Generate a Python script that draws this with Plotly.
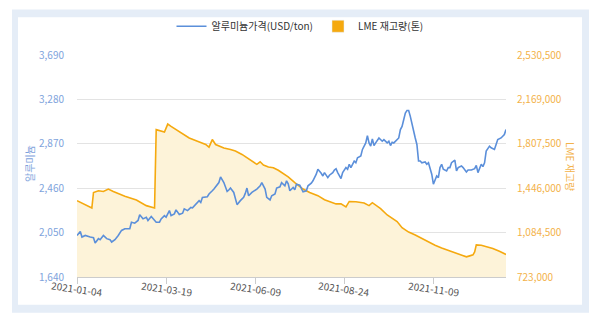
import plotly.graph_objects as go

# ---------------- data ----------------
x_tick_idx = [0, 54, 108, 162, 216]
x_tick_labels = ["2021-01-04", "2021-03-19", "2021-06-09", "2021-08-24", "2021-11-09"]

price_ticks = [1640, 2050, 2460, 2870, 3280, 3690]
stock_ticks = [723000, 1084500, 1446000, 1807500, 2169000, 2530500]

# (trading-day index, aluminium price USD/ton)
price_points = [
    (0, 2024), (2, 2061), (3, 2009), (5, 2024), (8, 2009), (10, 2003), (11, 1954), (13, 1994),
    (14, 1985), (16, 2024), (18, 1994), (20, 1985), (21, 1963), (23, 1985), (25, 2024), (27, 2070),
    (29, 2086), (32, 2086), (33, 2146), (35, 2137), (37, 2162), (38, 2214), (40, 2177), (42, 2192),
    (43, 2162), (45, 2198), (48, 2146), (50, 2146), (51, 2177), (53, 2207), (54, 2192), (56, 2253),
    (57, 2207), (59, 2223), (60, 2260), (62, 2217), (64, 2229), (65, 2269), (67, 2253), (69, 2283),
    (70, 2278), (72, 2314), (74, 2345), (75, 2329), (76, 2375), (79, 2381), (80, 2406), (82, 2436),
    (83, 2452), (86, 2512), (87, 2564), (89, 2512), (91, 2430), (92, 2443), (93, 2461), (95, 2421),
    (96, 2375), (97, 2308), (99, 2345), (101, 2375), (102, 2412), (103, 2461), (104, 2390), (106, 2421),
    (109, 2452), (111, 2482), (112, 2512), (114, 2452), (115, 2375), (117, 2351), (118, 2390), (120, 2406),
    (121, 2461), (123, 2473), (124, 2512), (126, 2482), (127, 2528), (128, 2500), (129, 2436), (131, 2466),
    (132, 2445), (133, 2497), (135, 2488), (136, 2452), (137, 2427), (139, 2436), (140, 2482), (142, 2507),
    (143, 2528), (145, 2589), (146, 2635), (148, 2598), (149, 2573), (150, 2604), (152, 2558), (153, 2580),
    (155, 2604), (156, 2628), (157, 2640), (158, 2604), (160, 2549), (161, 2604), (163, 2650), (164, 2635),
    (165, 2681), (166, 2650), (168, 2711), (169, 2695), (170, 2741), (172, 2757), (173, 2818), (175, 2878),
    (176, 2946), (177, 2878), (178, 2848), (179, 2915), (180, 2854), (181, 2878), (183, 2924), (185, 2894),
    (186, 2909), (188, 2878), (189, 2894), (190, 2854), (191, 2885), (192, 2878), (194, 2909), (195, 2924),
    (196, 3001), (197, 3031), (198, 3092), (199, 3153), (200, 3178), (201, 3178), (202, 3123), (203, 3047),
    (204, 3001), (205, 2924), (206, 2864), (207, 2711), (208, 2711), (209, 2695), (211, 2702), (212, 2681),
    (213, 2695), (214, 2650), (215, 2589), (216, 2497), (217, 2528), (218, 2573), (219, 2558), (220, 2650),
    (221, 2681), (222, 2635), (224, 2619), (225, 2650), (226, 2650), (227, 2695), (229, 2720), (230, 2619),
    (231, 2650), (233, 2665), (234, 2650), (236, 2610), (237, 2628), (239, 2628), (241, 2640), (242, 2671),
    (243, 2604), (245, 2681), (246, 2659), (247, 2695), (248, 2802), (249, 2823), (250, 2848), (251, 2833),
    (253, 2818), (254, 2864), (255, 2909), (257, 2924), (259, 2955), (260, 3001),
]

# (trading-day index, LME stock in tonnes)
stock_points = [
    (0, 1344000), (4, 1318000), (9, 1285000), (10, 1411000), (13, 1425000), (16, 1419000),
    (19, 1439000), (22, 1419000), (29, 1380000), (36, 1350000), (42, 1304000), (47, 1285000),
    (48, 1923000), (53, 1903000), (55, 1968000), (57, 1949000), (63, 1895000), (68, 1855000),
    (73, 1828000), (78, 1802000), (80, 1780000), (82, 1842000), (84, 1802000), (89, 1774000),
    (93, 1761000), (96, 1748000), (100, 1721000), (103, 1694000), (106, 1667000), (109, 1640000),
    (111, 1661000), (113, 1635000), (116, 1619000), (119, 1613000), (122, 1592000), (125, 1565000),
    (128, 1538000), (132, 1492000), (137, 1439000), (141, 1411000), (146, 1385000), (150, 1352000),
    (154, 1331000), (157, 1318000), (160, 1318000), (163, 1293000), (165, 1338000), (169, 1336000),
    (174, 1326000), (177, 1304000), (179, 1328000), (181, 1310000), (184, 1280000), (188, 1228000),
    (191, 1200000), (194, 1175000), (197, 1125000), (201, 1089000), (205, 1065000), (209, 1035000),
    (213, 1008000), (217, 981000), (221, 960000), (225, 941000), (230, 920000), (234, 895000),
    (236, 887000), (238, 895000), (240, 903000), (241, 927000), (242, 984000), (245, 981000),
    (249, 967000), (252, 955000), (256, 932000), (260, 907000),
]

price_name = "알루미늄가격(USD/ton)"
stock_name = "LME 재고량(톤)"

# ---------------- style ----------------
BLUE = "#5b8fda"
ORANGE = "#f5a90f"
FILL = "#fdf3d9"
FONT = "Noto Sans CJK KR, Noto Sans, sans-serif"

px_i = [p[0] for p in price_points]
px_v = [p[1] for p in price_points]
st_i = [p[0] for p in stock_points]
st_v = [p[1] for p in stock_points]

fig = go.Figure()

fig.add_trace(go.Scatter(
    x=st_i, y=st_v, mode="lines", name=stock_name, yaxis="y",
    line=dict(color=ORANGE, width=1.6), fill="tozeroy", fillcolor=FILL,
    showlegend=False,
))
fig.add_trace(go.Bar(
    x=[None], y=[None], name=stock_name, marker_color=ORANGE, yaxis="y",
    legendrank=2,
))
fig.add_trace(go.Scatter(
    x=px_i, y=px_v, mode="lines", name=price_name, yaxis="y2",
    line=dict(color=BLUE, width=1.6), legendrank=1,
))

# plot area in pixels: x 77..506, y 53..277
L, R, T, B = 77, 94, 53, 45
W, H = 600, 322
pw, ph = W - L - R, H - T - B

def fx(px):
    return (px - L) / pw

def fy(py):
    return (H - B - py) / ph

shapes = [
    dict(type="rect", xref="paper", yref="paper", x0=fx(12), x1=fx(589), y0=fy(313), y1=fy(7),
         fillcolor="#e5edf7", line=dict(width=0), layer="below"),
    dict(type="rect", xref="paper", yref="paper", x0=fx(18), x1=fx(582), y0=fy(305), y1=fy(15),
         fillcolor="white", line=dict(width=0), layer="below"),
]

annotations = [
    dict(text="알루미늄", xref="paper", yref="paper", x=fx(29), y=fy(163), showarrow=False,
         xanchor="center", yanchor="middle",
         textangle=-90, font=dict(size=10, color="#7ea3dc", family=FONT)),
    dict(text="LME 재고량", xref="paper", yref="paper", x=fx(571), y=fy(165), showarrow=False,
         xanchor="center", yanchor="middle",
         textangle=90, font=dict(size=10, color="#f3b24a", family=FONT)),
]
for xi, lab in zip(x_tick_idx, x_tick_labels):
    annotations.append(dict(text=lab, xref="x", yref="paper", x=xi, y=fy(289), showarrow=False,
                            xanchor="center", yanchor="middle",
                            textangle=8, font=dict(size=10, color="#555555", family=FONT)))

fig.update_layout(
    width=W, height=H,
    margin=dict(l=L, r=R, t=T, b=B, pad=0),
    paper_bgcolor="white", plot_bgcolor="rgba(0,0,0,0)",
    font=dict(family=FONT, size=10, color="#333333"),
    showlegend=True,
    legend=dict(orientation="h", x=fx(300), xanchor="center", y=fy(24), yanchor="middle",
                font=dict(size=10, color="#333333"), bgcolor="rgba(0,0,0,0)",
                itemwidth=30, traceorder="normal"),
    xaxis=dict(range=[0, 260], tickmode="array", tickvals=x_tick_idx, ticktext=x_tick_labels,
               showticklabels=False, ticks="outside", ticklen=6, tickcolor="#cccccc",
               showgrid=False, zeroline=False, showline=True, linecolor="#cccccc", linewidth=1),
    yaxis=dict(side="right", range=[stock_ticks[0], stock_ticks[-1]], tickmode="array",
               tickvals=stock_ticks, tickformat=",d", showgrid=True, gridcolor="#e3e3e3",
               gridwidth=1, zeroline=False, ticks="", ticklabelstandoff=10,
               tickfont=dict(size=10, color="#f3b24a", family=FONT)),
    yaxis2=dict(side="left", overlaying="y", range=[price_ticks[0], price_ticks[-1]],
                tickmode="array", tickvals=price_ticks, tickformat=",d", showgrid=False,
                zeroline=False, ticks="", ticklabelstandoff=12,
                tickfont=dict(size=10, color="#7ea3dc", family=FONT)),
    shapes=shapes,
    annotations=annotations,
)

fig.write_html("out.html")
